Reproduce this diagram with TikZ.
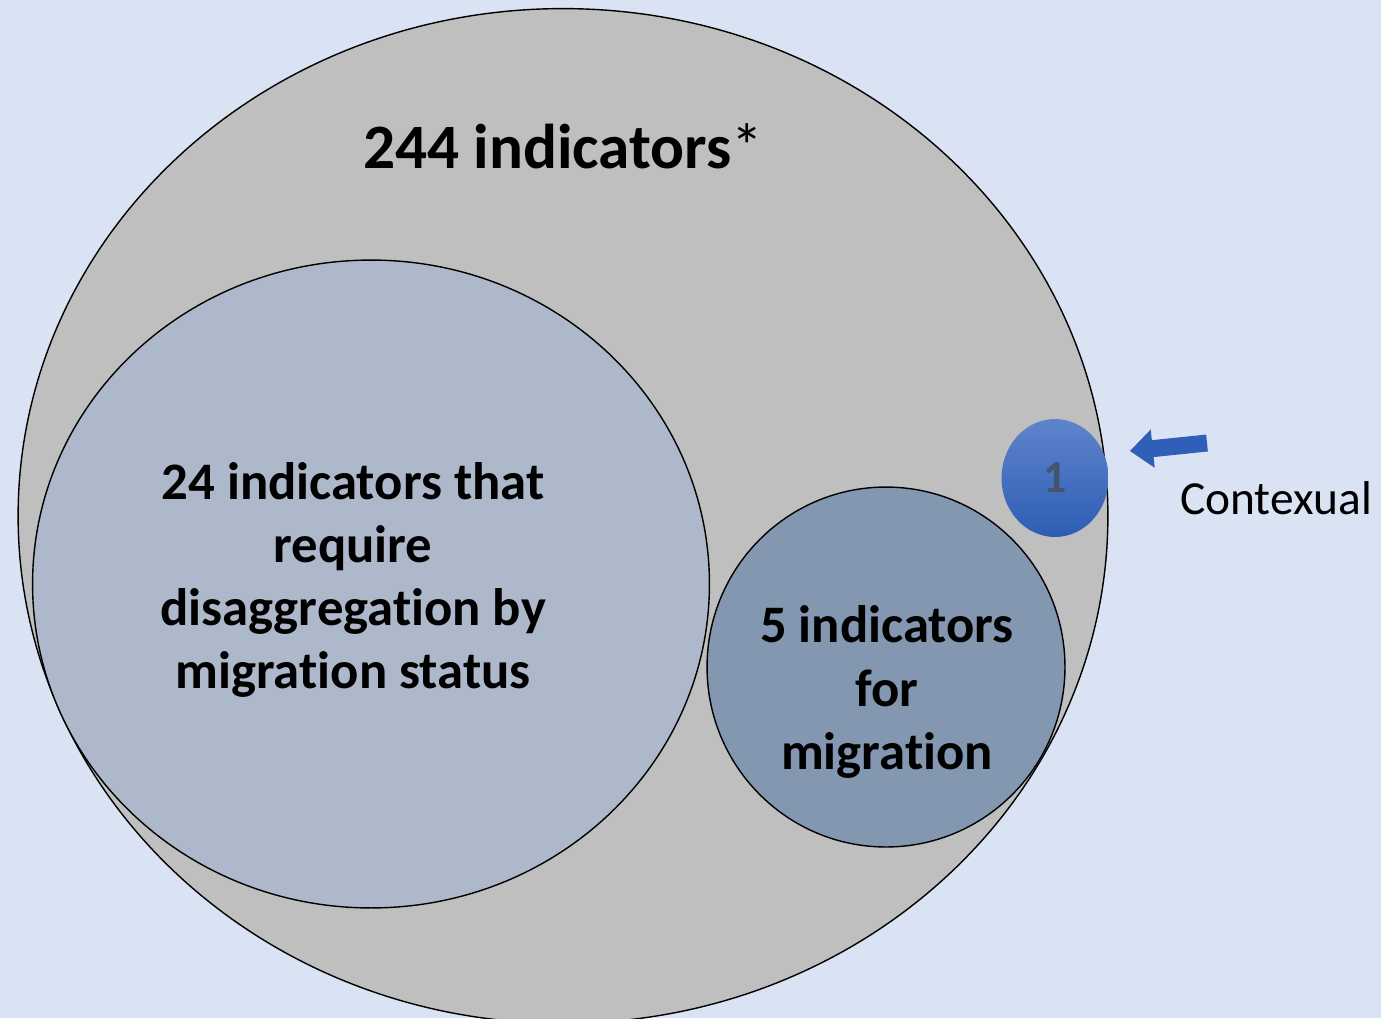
\documentclass[tikz,border=0pt]{standalone}
\usepackage{fontspec}
\setmainfont{Carlito}[Ligatures=NoCommon]
\usetikzlibrary{shapes.geometric,arrows.meta}
\definecolor{bgblue}{HTML}{DAE3F3}
\definecolor{outergray}{HTML}{BFBFBF}
\definecolor{innerblue}{HTML}{ADB9CA}
\definecolor{migblue}{HTML}{8497B0}
\definecolor{ctxtop}{HTML}{5F84CC}
\definecolor{ctxbot}{HTML}{2D5DB3}
\definecolor{ctxtext}{HTML}{44546A}
\definecolor{arrowblue}{HTML}{2F5FB8}
\tikzset{
  setbox/.style={ellipse, draw=black, line width=0.8pt, inner sep=0pt},
  bigtext/.style={font=\fontsize{30}{36}\selectfont\bfseries, align=center}
}
\begin{document}
\begin{tikzpicture}[x=0.02cm,y=-0.02cm]
		\useasboundingbox (0,0) rectangle (1381,1018);
		\fill[bgblue] (0,0) rectangle (1381,1018);
		\begin{scope}
		\clip (0,0) rectangle (1381,1018);
		\node[setbox, fill=outergray, minimum width=21.8cm, minimum height=20.3cm] (all) at (563,516) {};
		\end{scope}
		\node[font=\fontsize{36}{40}\selectfont\bfseries] (title) at (563,146) {244 indicators\textmd{*}};
		\node[setbox, fill=innerblue, minimum width=13.54cm, minimum height=12.96cm] (disagg) at (371,584) {};
		\node[bigtext] (disaggtext) at (353,580) {24 indicators that\\require\\disaggregation by\\migration status};
		\node[setbox, fill=migblue, minimum width=7.16cm, minimum height=7.2cm] (migration) at (886,667) {};
		\node[bigtext] (migrationtext) at (887,692) {5 indicators\\for\\migration};
		\node[ellipse, inner sep=0pt, minimum width=2.14cm, minimum height=2.36cm, top color=ctxtop, bottom color=ctxbot, font=\fontsize{26}{30}\selectfont\bfseries, text=ctxtext] (ctx) at (1055,478) {1};
		\node[font=\fontsize{27}{32}\selectfont, anchor=west] (ctxlabel) at (1174,498) {Contexual};
		\coordinate (tail) at (1207,443);
		\draw[arrowblue, line width=0.34cm, -{Triangle[length=0.46cm,width=0.74cm]}] (tail) -- ([xshift=0.42cm]ctx.east |- 0,451);
\end{tikzpicture}
\end{document}
